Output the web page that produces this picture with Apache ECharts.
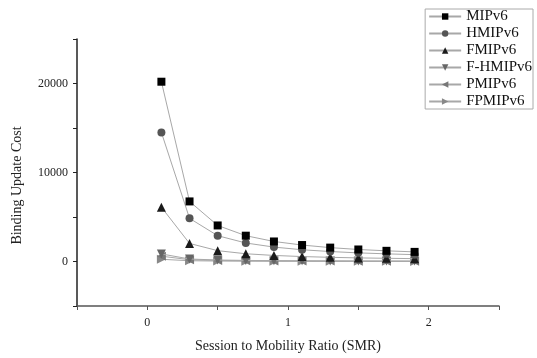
<!DOCTYPE html>
<html><head><meta charset="utf-8">
<script src="https://cdn.jsdelivr.net/npm/echarts@6/dist/echarts.min.js"></script>
<style>html,body{margin:0;padding:0;background:#fff}#c{width:537px;height:358px}</style>
</head><body><div id="c"></div>
<script>
const smr = [0.1, 0.3, 0.5, 0.7, 0.9, 1.1, 1.3, 1.5, 1.7, 1.9];
const mipv6   = [20200, 6750, 4050, 2900, 2250, 1850, 1560, 1350, 1200, 1080];
const hmipv6  = [14500, 4850, 2900, 2080, 1620, 1320, 1120, 970, 860, 770];
const fmipv6  = [6100, 2030, 1220, 870, 680, 555, 470, 405, 360, 320];
const fhmipv6 = [850, 280, 170, 120, 95, 78, 66, 57, 50, 45];
const pmipv6  = [600, 200, 120, 86, 67, 55, 46, 40, 35, 32];
const fpmipv6 = [250, 85, 50, 36, 28, 23, 19, 17, 15, 13];
const names = ['MIPv6','HMIPv6','FMIPv6','F-HMIPv6','PMIPv6','FPMIPv6'];
const xTicks = [0, 1, 2];
const yTicks = [0, 10000, 20000];

const font = '"Liberation Serif", "DejaVu Serif", serif';
const styles = [
  {symbol:'rect', rot:0, color:'#000', size:8},
  {symbol:'circle', rot:0, color:'#555', size:8},
  {symbol:'triangle', rot:0, color:'#1a1a1a', size:9},
  {symbol:'triangle', rot:180, color:'#666', size:9},
  {symbol:'triangle', rot:90, color:'#777', size:9},
  {symbol:'triangle', rot:-90, color:'#888', size:9}
];
const data = [mipv6, hmipv6, fmipv6, fhmipv6, pmipv6, fpmipv6];
const series = data.map((d, i) => ({
  name: names[i], type: 'line',
  data: d.map((v, j) => [smr[j], v]),
  symbol: styles[i].symbol, symbolRotate: styles[i].rot, symbolSize: styles[i].size,
  itemStyle: {color: styles[i].color},
  lineStyle: {color: '#a8a8a8', width: 1},
  z: 10 - i
}));

const chart = echarts.init(document.getElementById('c'), null, {renderer: 'canvas'});
chart.setOption({
  animation: false,
  backgroundColor: '#fff',
  grid: {left: 77, right: 38, top: 39, bottom: 45},
  legend: {
    data: names, orient: 'vertical', right: 4, top: 9,
    itemWidth: 32, itemHeight: 8, itemGap: 2,
    backgroundColor: '#fff', borderColor: '#aaa', borderWidth: 1,
    padding: [0, 1, 0, 3],
    textStyle: {fontFamily: font, fontSize: 15, lineHeight: 14, color: '#111'}
  },
  xAxis: {
    type: 'value', min: -0.5, max: 2.5, interval: 0.5,
    name: 'Session to Mobility Ratio (SMR)', nameLocation: 'middle', nameGap: 33,
    nameTextStyle: {fontFamily: font, fontSize: 14, color: '#222'},
    axisLine: {show: true, onZero: false, lineStyle: {color: '#555', width: 1.5}},
    axisTick: {show: true, length: 4, lineStyle: {color: '#555'}},
    axisLabel: {fontFamily: font, fontSize: 12, color: '#222', margin: 11,
      formatter: v => xTicks.includes(v) ? String(v) : ''},
    splitLine: {show: false}
  },
  yAxis: {
    type: 'value', min: -5000, max: 25000, interval: 5000,
    name: 'Binding Update Cost', nameLocation: 'middle', nameGap: 53,
    nameTextStyle: {fontFamily: font, fontSize: 14, color: '#222', padding: [0, 26, 0, 0]},
    axisLine: {show: true, onZero: false, lineStyle: {color: '#222', width: 1.5}},
    axisTick: {show: true, length: 4, lineStyle: {color: '#222'}},
    axisLabel: {fontFamily: font, fontSize: 12, color: '#222', margin: 9,
      formatter: v => yTicks.includes(v) ? String(v) : ''},
    splitLine: {show: false}
  },
  series: series
});
</script></body></html>
